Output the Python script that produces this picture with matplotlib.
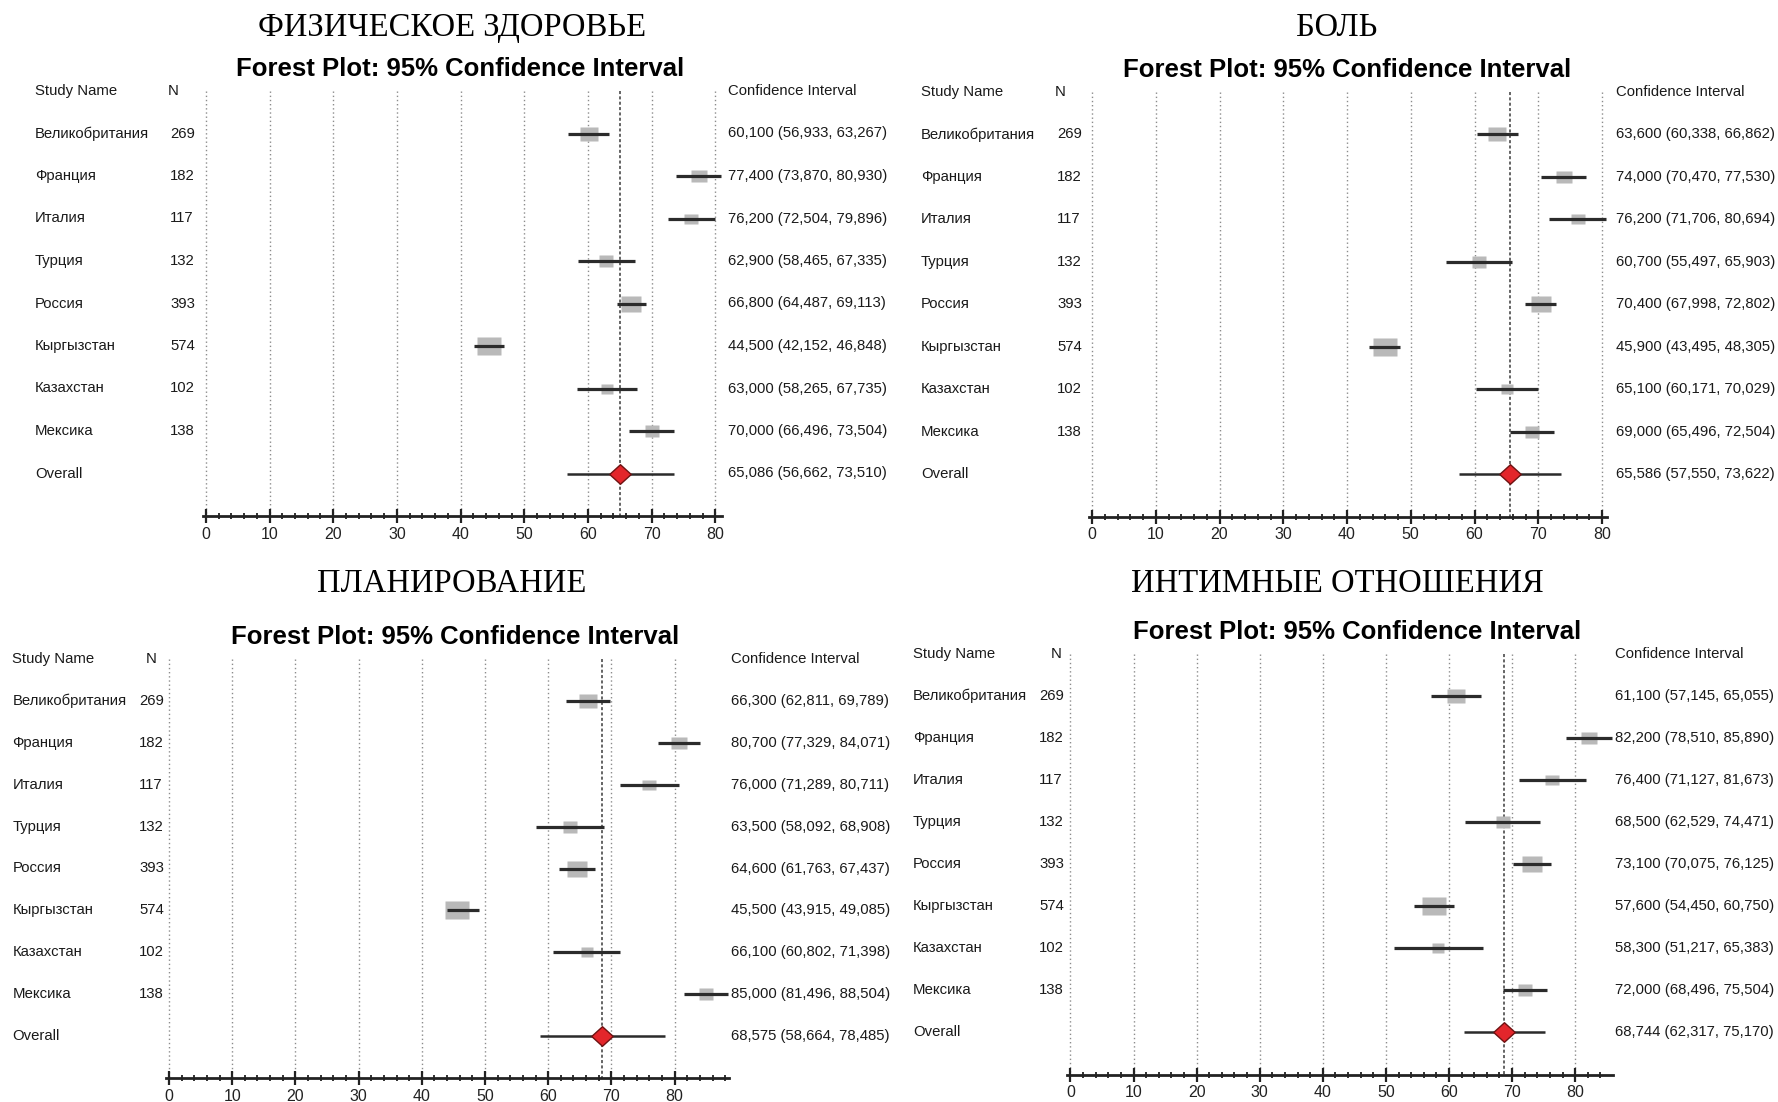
import matplotlib
matplotlib.use("Agg")
import matplotlib.pyplot as plt
from matplotlib.transforms import blended_transform_factory
from matplotlib.ticker import FixedLocator

# ---- data -------------------------------------------------------------
countries = ["Великобритания", "Франция", "Италия", "Турция", "Россия",
             "Кыргызстан", "Казахстан", "Мексика"]
n_sizes = [269, 182, 117, 132, 393, 574, 102, 138]

phys_est = [60.100, 77.400, 76.200, 62.900, 66.800, 44.500, 63.000, 70.000]
phys_lo = [56.933, 73.870, 72.504, 58.465, 64.487, 42.152, 58.265, 66.496]
phys_hi = [63.267, 80.930, 79.896, 67.335, 69.113, 46.848, 67.735, 73.504]
phys_overall = [65.086, 56.662, 73.510]

pain_est = [63.600, 74.000, 76.200, 60.700, 70.400, 45.900, 65.100, 69.000]
pain_lo = [60.338, 70.470, 71.706, 55.497, 67.998, 43.495, 60.171, 65.496]
pain_hi = [66.862, 77.530, 80.694, 65.903, 72.802, 48.305, 70.029, 72.504]
pain_overall = [65.586, 57.550, 73.622]

plan_est = [66.300, 80.700, 76.000, 63.500, 64.600, 45.500, 66.100, 85.000]
plan_lo = [62.811, 77.329, 71.289, 58.092, 61.763, 43.915, 60.802, 81.496]
plan_hi = [69.789, 84.071, 80.711, 68.908, 67.437, 49.085, 71.398, 88.504]
plan_overall = [68.575, 58.664, 78.485]

intim_est = [61.100, 82.200, 76.400, 68.500, 73.100, 57.600, 58.300, 72.000]
intim_lo = [57.145, 78.510, 71.127, 62.529, 70.075, 54.450, 51.217, 68.496]
intim_hi = [65.055, 85.890, 81.673, 74.471, 76.125, 60.750, 65.383, 75.504]
intim_overall = [68.744, 62.317, 75.170]

titles = ["ФИЗИЧЕСКОЕ ЗДОРОВЬЕ", "БОЛЬ", "ПЛАНИРОВАНИЕ", "ИНТИМНЫЕ ОТНОШЕНИЯ"]
subtitle = "Forest Plot: 95% Confidence Interval"
major_ticks = [0, 10, 20, 30, 40, 50, 60, 70, 80]

# ---- layout (pixels) ----------------------------------------------------
W, H = 1778, 1102
layouts = [
    dict(zero=205.8, ppu=6.37, top=91, axis=516, study=35, nhead=168, nval=170,
         ci=728, title=(452, 28), sub=(460, 69)),
    dict(zero=1092, ppu=6.375, top=92, axis=516.5, study=921, nhead=1055, nval=1057,
         ci=1616, title=(1337, 28), sub=(1347, 70)),
    dict(zero=169, ppu=6.32, top=659, axis=1078, study=12.5, nhead=146, nval=139,
         ci=731, title=(452, 584), sub=(455, 637)),
    dict(zero=1070.4, ppu=6.31, top=653.6, axis=1074.5, study=913, nhead=1050.6,
         nval=1039, ci=1614.6, title=(1337, 584), sub=(1357, 632)),
]
series = [
    (phys_est, phys_lo, phys_hi, phys_overall),
    (pain_est, pain_lo, pain_hi, pain_overall),
    (plan_est, plan_lo, plan_hi, plan_overall),
    (intim_est, intim_lo, intim_hi, intim_overall),
]

plt.rcParams["font.family"] = ["Liberation Sans", "DejaVu Sans"]
TXT = "#1a1a1a"
fig = plt.figure(figsize=(W / 100, H / 100), dpi=100)

rect_marker = [(-1.25, -1), (1.25, -1), (1.25, 1), (-1.25, 1), (-1.25, -1)]
diamond_marker = [(-1.1, 0), (0, 1), (1.1, 0), (0, -1), (-1.1, 0)]


def fmt(v):
    return f"{v:.3f}".replace(".", ",")


for title, lay, (est, lo, hi, overall) in zip(titles, layouts, series):
    xmin = -0.5
    xmax = max(hi + [overall[2]]) + 0.1
    left = lay["zero"] + xmin * lay["ppu"]
    right = lay["zero"] + xmax * lay["ppu"]
    ax = fig.add_axes([left / W, 1 - lay["axis"] / H, (right - left) / W,
                       (lay["axis"] - lay["top"]) / H])
    ax.set_xlim(xmin, xmax)
    ax.set_ylim(9, -1)
    ax.patch.set_visible(False)
    for s in ("top", "left", "right"):
        ax.spines[s].set_visible(False)
    ax.spines["bottom"].set_linewidth(2)
    ax.spines["bottom"].set_color("#222222")
    ax.set_yticks([])
    ax.xaxis.set_major_locator(FixedLocator(major_ticks))
    ax.xaxis.set_minor_locator(FixedLocator(list(range(0, int(xmax) + 1, 2))))
    ax.tick_params(axis="x", which="major", direction="inout", length=9.5,
                   width=1.6, pad=3, labelsize=11.5, colors="#222222")
    ax.tick_params(axis="x", which="minor", direction="inout", length=5,
                   width=1.3, colors="#222222")

    rows = list(range(len(countries)))
    ov_row = len(countries)

    # reference grid and pooled-estimate line
    ax.vlines(major_ticks, -1, 9, colors="#8c8c8c", linestyles=(0, (1, 2)),
              lw=1, zorder=0)
    ax.vlines(overall[0], -1, 9, colors="#3a3a3a", linestyles=(0, (2, 1.5)),
              lw=1.1, zorder=1)

    # study boxes sized by N, then their intervals
    for r, e, n in zip(rows, est, n_sizes):
        w_px = 14 * (n / 138) ** 0.35
        ax.plot(e, r, marker=rect_marker, ms=w_px * 0.72, mfc="#b9b9b9",
                mec="none", ls="none", zorder=2)
    ax.hlines(rows, lo, hi, colors="#2b2b2b", lw=2.3, zorder=3)

    # pooled estimate
    ax.hlines(ov_row, overall[1], overall[2], colors="#2b2b2b", lw=1.8, zorder=3)
    ax.plot(overall[0], ov_row, marker=diamond_marker, ms=15.5, mfc="#e3262b",
            mec="#6e1212", mew=1, ls="none", zorder=4)

    tr = blended_transform_factory(fig.transFigure, ax.transData)
    kw = dict(transform=tr, va="center", ha="left", fontsize=10.7, color=TXT,
              clip_on=False)
    ax.text(lay["study"] / W, -1, "Study Name", **kw)
    ax.text(lay["nhead"] / W, -1, "N", **kw)
    ax.text(lay["ci"] / W, -1, "Confidence Interval", **kw)
    for r, name, n, e, l, h in zip(rows, countries, n_sizes, est, lo, hi):
        ax.text(lay["study"] / W, r, name, **kw)
        ax.text(lay["nval"] / W, r, str(n), **kw)
        ax.text(lay["ci"] / W, r, f"{fmt(e)} ({fmt(l)}, {fmt(h)})", **kw)
    ax.text(lay["study"] / W, ov_row, "Overall", **kw)
    ax.text(lay["ci"] / W, ov_row,
            f"{fmt(overall[0])} ({fmt(overall[1])}, {fmt(overall[2])})", **kw)

    fig.text(lay["title"][0] / W, 1 - lay["title"][1] / H, title,
             family=["Liberation Serif", "DejaVu Serif"], fontsize=23.5,
             ha="center", va="center", color="#000000")
    fig.text(lay["sub"][0] / W, 1 - lay["sub"][1] / H, subtitle,
             fontsize=18.5, fontweight="bold", ha="center", va="center",
             color="#000000")

fig.savefig("out.png", dpi=100)
